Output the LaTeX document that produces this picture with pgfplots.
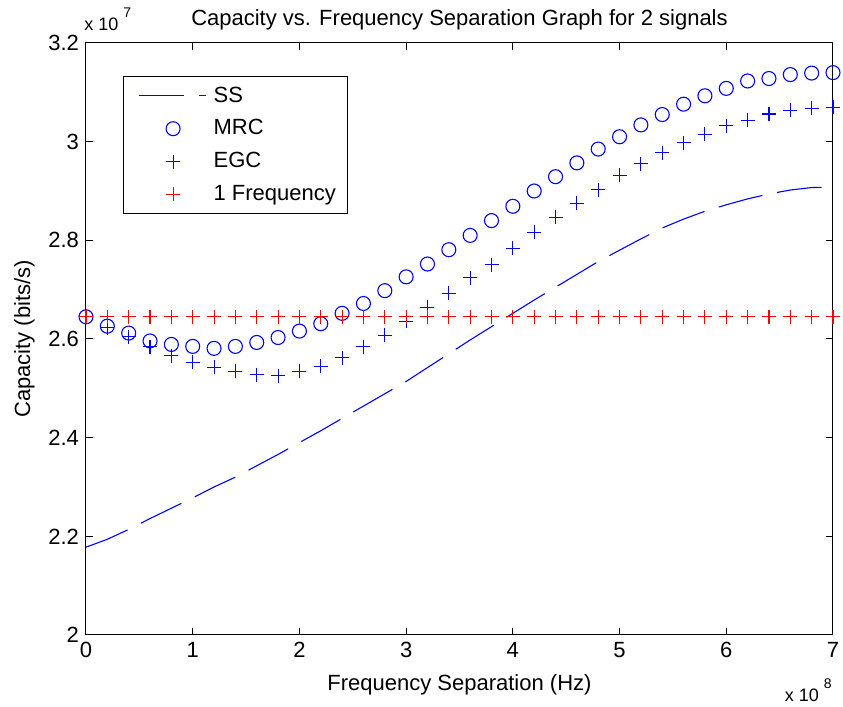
\documentclass[border=0pt]{standalone}
\usepackage{fontspec}
\setmainfont{Liberation Sans}
\usepackage{pgfplots}
\usepackage{pgfplotstable}
\pgfplotsset{compat=1.18}
\pgfplotsset{
  legline/.style={legend image code/.code={\path (0pt,0pt); \draw[##1] (3.5pt,0pt) -- (37pt,0pt);}},
  legmark/.style={legend image code/.code={\path (0pt,0pt) (37pt,0pt); \draw[mark repeat=2, mark phase=2, ##1] plot coordinates {(3.5pt,0pt) (20.5pt,0pt) (37pt,0pt)};}},
}
% x in units of 1e8 Hz, y in units of 1e7 bits/s
\pgfplotstableread{
x ss mrc egc one
0.0 2.178 2.645 2.645 2.645
0.2 2.194 2.626 2.623 2.645
0.4 2.214 2.612 2.605 2.645
0.6 2.236 2.596 2.584 2.645
0.8 2.257 2.589 2.566 2.645
1.0 2.278 2.585 2.553 2.645
1.2 2.300 2.581 2.543 2.645
1.4 2.320 2.585 2.535 2.645
1.6 2.343 2.593 2.528 2.645
1.8 2.366 2.603 2.526 2.645
2.0 2.390 2.616 2.535 2.645
2.2 2.414 2.631 2.545 2.645
2.4 2.439 2.652 2.562 2.645
2.6 2.464 2.672 2.584 2.645
2.8 2.489 2.698 2.608 2.645
3.0 2.514 2.726 2.636 2.645
3.2 2.542 2.752 2.664 2.645
3.4 2.570 2.781 2.693 2.645
3.6 2.598 2.810 2.724 2.645
3.8 2.625 2.840 2.751 2.645
4.0 2.652 2.869 2.784 2.645
4.2 2.679 2.900 2.816 2.645
4.4 2.705 2.929 2.847 2.645
4.6 2.731 2.957 2.875 2.645
4.8 2.757 2.985 2.903 2.645
5.0 2.780 3.010 2.932 2.645
5.2 2.803 3.034 2.955 2.645
5.4 2.825 3.055 2.978 2.645
5.6 2.843 3.076 2.998 2.645
5.8 2.859 3.093 3.015 2.645
6.0 2.872 3.108 3.032 2.645
6.2 2.884 3.123 3.043 2.645
6.4 2.894 3.128 3.056 2.645
6.6 2.902 3.136 3.064 2.645
6.8 2.907 3.139 3.068 2.645
7.0 2.908 3.140 3.070 2.645
}\datatable
\definecolor{mblue}{RGB}{0,0,255}
\definecolor{mred}{RGB}{255,0,0}
\newcommand{\lbl}{\fontsize{11}{13}\selectfont}
\newcommand{\sml}{\fontsize{9}{11}\selectfont}
\begin{document}
\begin{tikzpicture}
\begin{axis}[
  scale only axis, width=373.5pt, height=296pt,
  xmin=0, xmax=7, ymin=2, ymax=3.2,
  xtick={0,1,2,3,4,5,6,7},
  ytick={2,2.2,2.4,2.6,2.8,3,3.2},
  scaled ticks=false,
  tick align=inside, major tick length=3.5pt,
  tick style={black, line width=0.5pt},
  axis line style={black, line width=0.5pt},
  /pgf/number format/assume math mode=true,
  font=\lbl,
  ticklabel style={font=\lbl},
  every axis title shift=0pt,
  title={Capacity vs. Frequency Separation Graph for 2 signals},
  title style={at={(0.5,1)}, anchor=base, yshift=8.75pt, inner sep=0pt, font=\lbl},
  xlabel={Frequency Separation (Hz)},
  ylabel={Capacity (bits/s)},
  xlabel style={at={(0.5,0)}, anchor=base, yshift=-28pt, inner sep=0pt, font=\lbl},
  ylabel style={font=\lbl},
  legend cell align=left,
  legend style={at={(0.0496,0.944)}, anchor=north west, draw=black, line width=0.5pt,
    fill=white, font=\lbl, row sep=3.25pt, column sep=1.5pt, inner xsep=4pt, inner ysep=3pt},
  clip=false,
]
\addplot[mblue, line width=0.55pt, dash pattern=on 22.5pt off 7.5pt, legline]
  table[x=x, y=ss] {\datatable};
\addlegendentry{SS}
\addplot[mblue, only marks, mark=o, mark size=3.5pt, line width=0.55pt, legmark]
  table[x=x, y=mrc] {\datatable};
\addlegendentry{MRC}
\addplot[mblue, only marks, mark=+, mark size=3.5pt, line width=0.55pt, legmark]
  table[x=x, y=egc] {\datatable};
\addlegendentry{EGC}
\addplot[mred, only marks, mark=+, mark size=3.5pt, line width=0.55pt, legmark]
  table[x=x, y=one] {\datatable};
\addlegendentry{1 Frequency}
\node[anchor=base west, font=\sml, inner sep=0pt] at ([xshift=-1pt, yshift=6.25pt]current axis.north west) {x 10\hspace{2.5pt}\raisebox{6.5pt}{\fontsize{7}{8}\selectfont 7}};
\node[anchor=base east, font=\sml, inner sep=0pt] at ([xshift=-0.5pt, yshift=-33.3pt]current axis.south east) {x 10\hspace{2.5pt}\raisebox{6.5pt}{\fontsize{7}{8}\selectfont 8}};
\end{axis}
\pgfresetboundingbox
\path (-43pt,-36pt) rectangle (378.5pt,317.5pt);
\end{tikzpicture}
\end{document}
